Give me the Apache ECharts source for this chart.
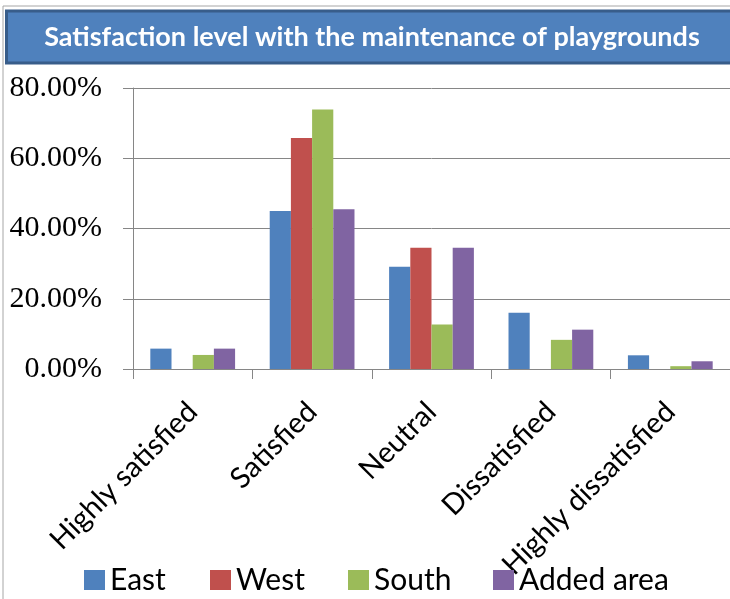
<!DOCTYPE html>
<html>
<head>
<meta charset="utf-8">
<script src="https://cdn.jsdelivr.net/npm/echarts@6/dist/echarts.min.js"></script>
<style>
  html, body { margin: 0; padding: 0; background: #fff; }
  #chart { width: 730px; height: 599px; }
</style>
</head>
<body>
<div id="chart"></div>
<script>
// Satisfaction categories along the x axis
const categories = ['Highly satisfied', 'Satisfied', 'Neutral', 'Dissatisfied', 'Highly dissatisfied'];

// Share of respondents (%) per area
const east      = [5.8, 45.0, 29.1, 16.0, 3.9];
const west      = [0,   65.8, 34.5, 0,    0];
const south     = [4.0, 73.9, 12.7, 8.3,  0.8];
const addedArea = [5.8, 45.5, 34.5, 11.2, 2.2];

const seriesNames = ['East', 'West', 'South', 'Added area'];
const seriesColors = ['#4f81bd', '#c0504d', '#9bbb59', '#8064a2'];
const seriesData = [east, west, south, addedArea];

// Y axis ticks
const yMin = 0, yMax = 80, yStep = 20;

const titleText = 'Satisfaction level with the maintenance of playgrounds';

const chart = echarts.init(document.getElementById('chart'), null, { renderer: 'canvas' });

const legendLefts = [84, 210, 348, 493];
const legendFont = { fontFamily: 'Lato', fontSize: 30, color: '#000' };

chart.setOption({
  animation: false,
  backgroundColor: '#fff',
  title: {
    text: titleText,
    left: 372,
    top: 24,
    textAlign: 'center',
    padding: 0,
    textStyle: { fontFamily: 'Lato', fontWeight: 'bold', fontSize: 27, color: '#fff' }
  },
  graphic: [
    { type: 'rect', z: -1, shape: { x: 3, y: 6, width: 740, height: 600 },
      style: { fill: '#fff', stroke: '#a6a6a6', lineWidth: 1 } },
    { type: 'rect', z: 0, shape: { x: 6.5, y: 11, width: 740, height: 52 },
      style: { fill: '#4f81bd', stroke: '#385d8a', lineWidth: 3 } }
  ],
  legend: seriesNames.map((name, i) => ({
    data: [name],
    left: legendLefts[i],
    top: 565,
    icon: 'rect',
    itemWidth: 21,
    itemHeight: 20,
    itemGap: 4,
    padding: 0,
    textStyle: legendFont
  })),
  grid: { left: 133, top: 88, width: 606, height: 281, containLabel: false },
  xAxis: {
    type: 'category',
    data: categories,
    axisLine: { lineStyle: { color: '#868686', width: 1 } },
    axisTick: { show: true, length: 10, lineStyle: { color: '#868686' } },
    axisLabel: {
      rotate: 45, margin: 38, interval: 0,
      fontFamily: 'Lato', fontSize: 29, color: '#000'
    }
  },
  yAxis: {
    type: 'value',
    min: yMin, max: yMax, interval: yStep,
    axisLine: { show: true, lineStyle: { color: '#868686', width: 1 } },
    axisTick: { show: true, length: 10, lineStyle: { color: '#868686' } },
    splitLine: { lineStyle: { color: '#868686', width: 1 } },
    axisLabel: {
      margin: 31,
      fontFamily: 'Liberation Serif', fontSize: 30, color: '#000',
      formatter: v => v.toFixed(2) + '%'
    }
  },
  series: seriesData.map((d, i) => ({
    name: seriesNames[i],
    type: 'bar',
    data: d,
    barGap: '0%',
    barCategoryGap: '29%',
    itemStyle: { color: seriesColors[i] }
  }))
});
</script>
</body>
</html>
